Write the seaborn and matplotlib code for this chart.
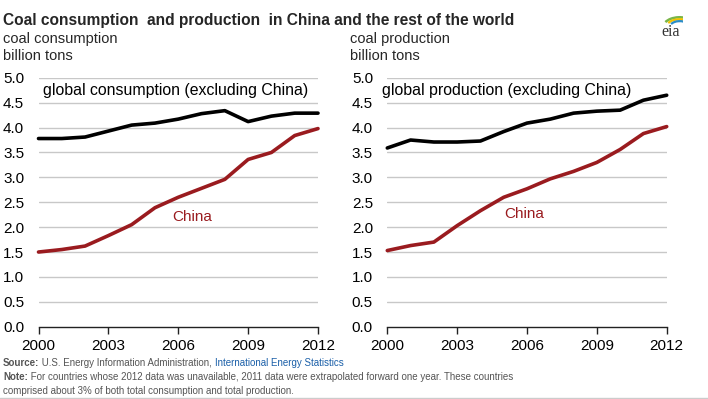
import numpy as np
import pandas as pd
import matplotlib
matplotlib.use("Agg")
import matplotlib.pyplot as plt
import seaborn as sns
from matplotlib.patches import Arc

years = list(range(2000, 2013))
cons_world = [3.78, 3.78, 3.81, 3.93, 4.05, 4.09, 4.17, 4.28, 4.34, 4.12, 4.23, 4.29, 4.29]
cons_china = [1.50, 1.55, 1.62, 1.83, 2.05, 2.39, 2.60, 2.78, 2.96, 3.36, 3.50, 3.84, 3.98]
prod_world = [3.59, 3.75, 3.71, 3.71, 3.73, 3.92, 4.09, 4.17, 4.29, 4.33, 4.35, 4.55, 4.65]
prod_china = [1.53, 1.63, 1.70, 2.03, 2.33, 2.60, 2.77, 2.97, 3.12, 3.30, 3.56, 3.88, 4.02]
xticks = [2000, 2003, 2006, 2009, 2012]
yticks = [0.0, 0.5, 1.0, 1.5, 2.0, 2.5, 3.0, 3.5, 4.0, 4.5, 5.0]

sns.set_theme(style="white")
plt.rcParams['font.family'] = ['Liberation Sans', 'DejaVu Sans']

W, H = 708, 399
fig = plt.figure(figsize=(W / 100, H / 100), dpi=100)
fig.patch.set_facecolor("white")

RED = "#9a1b1f"
GRID = "#c8c8c8"

def px(x, y):
    return x / W, 1 - y / H

def make_ax(left_px, right_px, world, china, label, china_xy, glob_x):
    top, bottom = 77.8, 326.7
    ax = fig.add_axes([left_px / W, 1 - bottom / H, (right_px - left_px) / W, (bottom - top) / H])
    df = pd.DataFrame({"year": years + years,
                       "value": world + china,
                       "series": ["world"] * len(years) + ["china"] * len(years)})
    sns.lineplot(data=df, x="year", y="value", hue="series",
                 palette={"world": "black", "china": RED}, linewidth=2.6,
                 legend=False, ax=ax, clip_on=False)
    ax.set_xlim(2000, 2012)
    ax.set_ylim(0, 5.0)
    ax.set_xticks(xticks)
    ax.set_xticklabels([str(t) for t in xticks])
    ax.set_yticks(yticks)
    ax.set_yticklabels([f"{t:.1f}" for t in yticks])
    ax.set_xlabel("")
    ax.set_ylabel("")
    for t in yticks[1:]:
        ax.axhline(t, color=GRID, lw=1.0, zorder=0)
    for s in ["top", "right", "left"]:
        ax.spines[s].set_visible(False)
    ax.spines["bottom"].set_color("#222222")
    ax.spines["bottom"].set_linewidth(1.0)
    ax.tick_params(axis="x", bottom=True, direction="out", length=5, width=1,
                   color="#222222", labelsize=11, pad=4, labelcolor="black")
    ax.tick_params(axis="y", left=False, length=0, labelsize=11, pad=10.3, labelcolor="black")
    ax.patch.set_alpha(0)
    ax.text(glob_x, 4.75, label, fontsize=11.4, color="black", va="center", ha="left")
    ax.text(china_xy[0], china_xy[1], "China", fontsize=11, color=RED, va="center", ha="left")
    return ax

make_ax(38.5, 318.0, cons_world, cons_china,
        "global consumption (excluding China)", (2005.73, 2.21), 2000.19)
make_ax(387.3, 666.7, prod_world, prod_china,
        "global production (excluding China)", (2005.01, 2.26), 1999.77)

# titles
fig.text(*px(3, 21), "Coal consumption  and production  in China and the rest of the world",
         fontsize=11.2, fontweight="bold", va="center", ha="left")
fig.text(*px(3, 39.5), "coal consumption", fontsize=10.5, va="center", ha="left")
fig.text(*px(3, 56.5), "billion tons", fontsize=10.5, va="center", ha="left")
fig.text(*px(350, 39.5), "coal production", fontsize=10.5, va="center", ha="left")
fig.text(*px(350, 56.5), "billion tons", fontsize=10.5, va="center", ha="left")

# footer
GRAY = "#555555"
FS = 7.0
t = fig.text(*px(3, 363), "Source:", fontsize=FS, fontweight="bold", color=GRAY,
             va="center", ha="left")
fig.canvas.draw()
bb = t.get_window_extent()
t2 = fig.text(bb.x1 / W, 1 - 363 / H, " U.S. Energy Information Administration, ", fontsize=FS,
              color=GRAY, va="center", ha="left")
fig.canvas.draw()
bb2 = t2.get_window_extent()
fig.text(bb2.x1 / W, 1 - 363 / H, "International Energy Statistics", fontsize=FS,
         color="#1a5fa8", va="center", ha="left")
t3 = fig.text(*px(3, 377.5), "Note:", fontsize=FS, fontweight="bold", color=GRAY,
              va="center", ha="left")
fig.canvas.draw()
bb3 = t3.get_window_extent()
fig.text(bb3.x1 / W, 1 - 377.5 / H,
         " For countries whose 2012 data was unavailable, 2011 data were extrapolated forward one year. These countries",
         fontsize=FS, color=GRAY, va="center", ha="left")
fig.text(*px(3, 391.5), "comprised about 3% of both total consumption and total production.",
         fontsize=FS, color=GRAY, va="center", ha="left")
fig.add_artist(plt.Line2D([0, 1], [1 - 397.5 / H] * 2, color="#cccccc", lw=1))

# eia logo
fig.text(*px(671, 32), "eia", fontsize=11.5, family=['Liberation Serif', 'DejaVu Serif'],
         color="#333333", va="center", ha="center")
lax = fig.add_axes([661 / W, 1 - 27 / H, 22 / W, 13 / H])
lax.set_xlim(0, 1)
lax.set_ylim(0, 1)
lax.axis("off")
for c, r, lw in [("#7ab648", 0.75, 1.8), ("#f2c200", 0.6, 1.6), ("#2a8cc8", 0.45, 1.6)]:
    lax.add_patch(Arc((0.85, 0.0), 2 * r, 2.0 * r, theta1=40, theta2=150, color=c, lw=lw))

fig.savefig("out.png", dpi=100, facecolor="white")
